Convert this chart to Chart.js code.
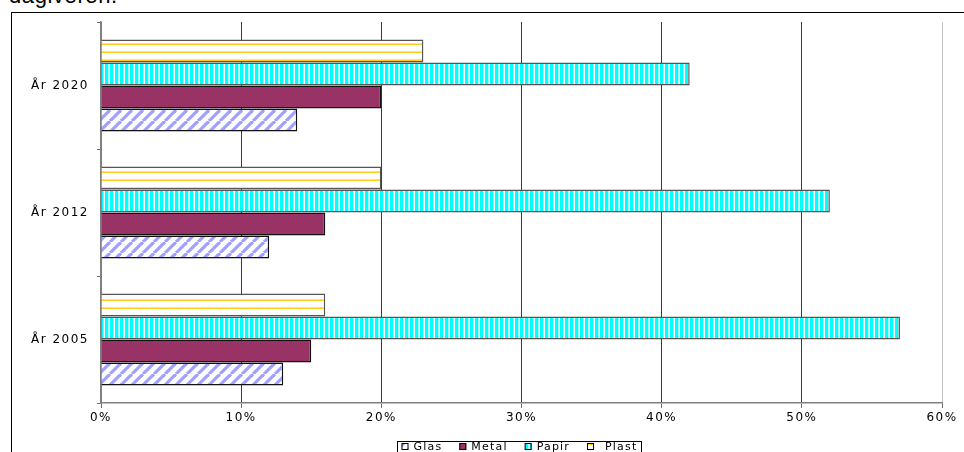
<!DOCTYPE html>
<html>
<head>
<meta charset="utf-8">
<script src="https://cdn.jsdelivr.net/npm/chart.js@4"></script>
<style>
  html, body { margin: 0; padding: 0; background: #fff; overflow: hidden; width: 964px; height: 452px; }
  #caption { position: absolute; left: 9px; top: -15px; font: 22px "Liberation Sans", Arial, sans-serif; line-height: 22px; color: #000; letter-spacing: 0.6px; white-space: nowrap; }
  #frame { position: absolute; left: 11px; top: 12px; width: 2000px; height: 2000px; border-left: 1px solid #000; border-top: 1px solid #000; }
  #wrap { position: absolute; left: 0; top: 0; width: 964px; height: 452px; }
</style>
</head>
<body>
<div id="caption">dagiveren.</div>
<div id="frame"></div>
<div id="wrap"><canvas id="c"></canvas></div>
<script>
// Categories (top to bottom) and the share of each material, in percent
const years = ['År 2020', 'År 2012', 'År 2005'];
const plast = [23, 20, 16];
const papir = [42, 52, 57];
const metal = [20, 16, 15];
const glas  = [14, 12, 13];
const axisMax = 60;
const axisStep = 10;

const canvas = document.getElementById('c');
const baseCtx = canvas.getContext('2d');

// Small repeating tiles used as hatch fills
function makePattern(w, h, paint) {
  const t = document.createElement('canvas');
  t.width = w; t.height = h;
  const g = t.getContext('2d');
  g.fillStyle = '#fff';
  g.fillRect(0, 0, w, h);
  paint(g);
  return baseCtx.createPattern(t, 'repeat');
}

const glasFill = makePattern(11, 11, g => {
  g.strokeStyle = '#a0a0ff';
  g.lineWidth = 3.2;
  for (const o of [-11, 0, 11]) {
    g.beginPath(); g.moveTo(o, 11); g.lineTo(o + 11, 0); g.stroke();
  }
});

const papirFill = makePattern(5, 1, g => {
  g.fillStyle = '#00ffff'; g.fillRect(0, 0, 3, 1);
  g.fillStyle = '#a8ffff'; g.fillRect(3, 0, 1, 1);
});

const plastFill = makePattern(1, 8, g => {
  g.fillStyle = '#ffe27a'; g.fillRect(0, 3, 1, 1);
  g.fillStyle = '#ffcc1a'; g.fillRect(0, 4, 1, 1);
});

const tickFont = { family: '"DejaVu Sans", sans-serif', size: 12 };

// Outlined legend box under the axis
const boxLegend = {
  id: 'boxLegend',
  afterDraw(chart) {
    const ctx = chart.ctx;
    const left = 397.5, top = 441.5, right = 641.5;
    ctx.save();
    ctx.strokeStyle = '#000';
    ctx.lineWidth = 1;
    ctx.strokeRect(left, top, right - left, 30);
    ctx.font = '11px "DejaVu Sans", sans-serif';
    ctx.letterSpacing = '1.2px';
    ctx.textBaseline = 'alphabetic';
    ctx.textAlign = 'left';
    const items = chart.data.datasets.slice().reverse();
    const sw = 7, gap = 5;
    const extra = items.map((d, i) => (i === items.length - 1 ? 6 : 0));
    const widths = items.map(d => ctx.measureText(d.label).width);
    let used = 0;
    items.forEach((d, i) => { used += sw + gap + extra[i] + widths[i]; });
    const spacing = ((right - left - 8) - used) / (items.length - 1);
    let x = left + 4;
    const base = 450;
    items.forEach((d, i) => {
      ctx.fillStyle = d.backgroundColor;
      ctx.fillRect(x, base - 7, sw, sw);
      ctx.strokeStyle = '#000';
      ctx.strokeRect(x + 0.5, base - 6.5, sw - 1, sw - 1);
      x += sw + gap + extra[i];
      ctx.fillStyle = '#000';
      ctx.fillText(d.label, x, base);
      x += widths[i] + spacing;
    });
    ctx.restore();
  }
};

// Wide letter spacing for all chart text
const spacedText = {
  id: 'spacedText',
  beforeDraw(chart) { chart.ctx.letterSpacing = '1.5px'; }
};

new Chart(canvas, {
  type: 'bar',
  data: {
    labels: years,
    datasets: [
      { label: 'Plast', data: plast, backgroundColor: plastFill, borderColor: '#555', borderWidth: 1.5 },
      { label: 'Papir', data: papir, backgroundColor: papirFill, borderColor: '#555', borderWidth: 1.5 },
      { label: 'Metal', data: metal, backgroundColor: '#993366', borderColor: '#111', borderWidth: 1.5 },
      { label: 'Glas',  data: glas,  backgroundColor: glasFill,  borderColor: '#111', borderWidth: 1.5 }
    ]
  },
  options: {
    indexAxis: 'y',
    responsive: true,
    maintainAspectRatio: false,
    animation: false,
    devicePixelRatio: 1,
    layout: { padding: { top: 22, right: 22, left: 0, bottom: 0 } },
    datasets: { bar: { categoryPercentage: 0.725, barPercentage: 1.0 } },
    plugins: { legend: { display: false }, tooltip: { enabled: false } },
    scales: {
      x: {
        min: 0,
        max: axisMax,
        ticks: {
          stepSize: axisStep,
          autoSkip: false,
          maxRotation: 0,
          padding: 3,
          color: '#000',
          font: tickFont,
          callback: v => v + '%'
        },
        grid: {
          color: c => (c.tick && c.tick.value === axisMax) ? '#c4c4c4' : (c.tick && c.tick.value === 0 ? '#808080' : '#3a3a3a'),
          lineWidth: 1,
          drawTicks: true,
          tickLength: 5,
          tickColor: '#6a6a6a'
        },
        border: { display: true, color: '#808080', width: 1.5 },
        afterFit(scale) { scale.height = 49; }
      },
      y: {
        ticks: { padding: 8, color: '#000', font: tickFont },
        grid: {
          drawOnChartArea: false,
          drawTicks: true,
          tickLength: 4,
          offset: true,
          color: '#6a6a6a'
        },
        border: { display: true, color: '#808080', width: 1.5 },
        afterFit(scale) { scale.width = 101; }
      }
    }
  },
  plugins: [spacedText, boxLegend]
});
</script>
</body>
</html>
